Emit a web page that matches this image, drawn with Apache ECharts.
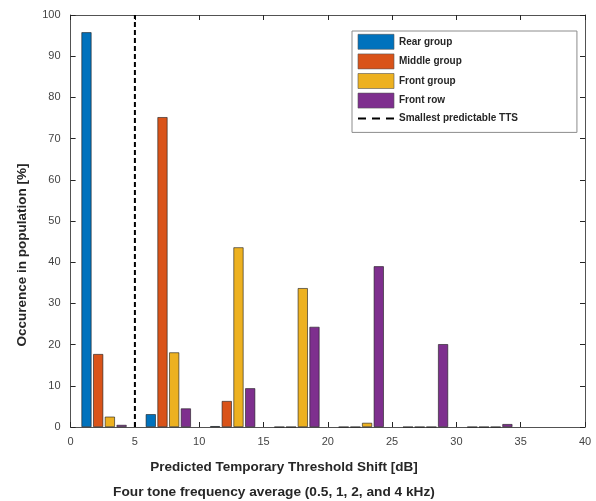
<!DOCTYPE html>
<html>
<head>
<meta charset="utf-8">
<script src="https://cdn.jsdelivr.net/npm/echarts@6/dist/echarts.min.js"></script>
<style>html,body{margin:0;padding:0;background:#fff;}#c{width:596px;height:501px;}</style>
</head>
<body>
<div id="c"></div>
<script>
const binCenters = [2.6, 7.6, 12.6, 17.6, 22.6, 27.6, 32.6];
const rearGroup = [95.8, 3.1, 0.2, 0, 0, 0, 0];
const middleGroup = [17.7, 75.2, 6.3, 0, 0, 0, 0];
const frontGroup = [2.5, 18.1, 43.6, 33.7, 1.0, 0, 0];
const frontRow = [0.5, 4.5, 9.4, 24.3, 39.0, 20.1, 0.7];
const smallestTTS = 5;
const seriesNames = ['Rear group', 'Middle group', 'Front group', 'Front row', 'Smallest predictable TTS'];
const colors = ['#0072BD', '#D95319', '#EDB120', '#7E2F8E'];
const xTicks = [0, 5, 10, 15, 20, 25, 30, 35, 40];
const yTicks = [0, 10, 20, 30, 40, 50, 60, 70, 80, 90, 100];
const xLabelLines = ['Predicted Temporary Threshold Shift [dB]', 'Four tone frequency average (0.5, 1, 2, and 4 kHz)'];
const yLabel = 'Occurence in population [%]';

const chart = echarts.init(document.getElementById('c'));
const font = 'Liberation Sans, Arial, sans-serif';
const axisCol = '#262626';
const tickCol = '#444';

function barSeries(name, vals, i) {
  return {
    name: name, type: 'bar', xAxisIndex: 0, yAxisIndex: 0,
    data: binCenters.map((x, k) => [x, vals[k]]),
    barWidth: 10, barGap: '17%',
    itemStyle: { color: colors[i], borderColor: '#1a1a1a', borderWidth: 0.6 },
    emphasis: { disabled: true }
  };
}

const axisLineStyle = { color: axisCol, width: 0.8 };
const tickStyle = { show: true, inside: true, length: 5, lineStyle: { color: axisCol } };

const option = {
  animation: false,
  backgroundColor: '#fff',
  grid: { left: 70.6, right: 11, top: 15, bottom: 74, containLabel: false },
  xAxis: [
    { type: 'value', min: xTicks[0], max: xTicks[xTicks.length - 1], interval: 5,
      axisLine: { show: true, onZero: false, lineStyle: axisLineStyle },
      axisTick: tickStyle,
      axisLabel: { color: tickCol, fontSize: 11, fontFamily: font, margin: 9 },
      splitLine: { show: false } },
    { type: 'value', position: 'top', min: xTicks[0], max: xTicks[xTicks.length - 1], interval: 5,
      axisLine: { show: true, onZero: false, lineStyle: axisLineStyle },
      axisTick: tickStyle, axisLabel: { show: false }, splitLine: { show: false } }
  ],
  yAxis: [
    { type: 'value', min: yTicks[0], max: yTicks[yTicks.length - 1], interval: 10,
      axisLine: { show: true, onZero: false, lineStyle: axisLineStyle },
      axisTick: tickStyle,
      axisLabel: { color: tickCol, fontSize: 11, fontFamily: font, margin: 10 },
      splitLine: { show: false } },
    { type: 'value', position: 'right', min: yTicks[0], max: yTicks[yTicks.length - 1], interval: 10,
      axisLine: { show: true, onZero: false, lineStyle: axisLineStyle },
      axisTick: tickStyle, axisLabel: { show: false }, splitLine: { show: false } }
  ],
  legend: {
    orient: 'vertical', left: 352, top: 31,
    padding: [3, 59, 8, 5], itemGap: 4, itemWidth: 36, itemHeight: 15,
    borderColor: '#8c8c8c', borderWidth: 1, backgroundColor: '#fff',
    itemStyle: { borderWidth: 0.6, borderColor: '#555' },
    textStyle: { color: axisCol, fontSize: 10, fontFamily: font, fontWeight: 'bold' },
    data: [
      { name: seriesNames[0], icon: 'rect' },
      { name: seriesNames[1], icon: 'rect' },
      { name: seriesNames[2], icon: 'rect' },
      { name: seriesNames[3], icon: 'rect' },
      { name: seriesNames[4],
        itemStyle: { color: 'rgba(0,0,0,0)', borderWidth: 0, borderColor: 'rgba(0,0,0,0)' },
        lineStyle: { color: '#000', width: 2, type: [8, 6] } }
    ]
  },
  series: [
    barSeries(seriesNames[0], rearGroup, 0),
    barSeries(seriesNames[1], middleGroup, 1),
    barSeries(seriesNames[2], frontGroup, 2),
    barSeries(seriesNames[3], frontRow, 3),
    { name: seriesNames[4], type: 'line', xAxisIndex: 0, yAxisIndex: 0,
      data: [[smallestTTS, yTicks[0]], [smallestTTS, yTicks[yTicks.length - 1]]],
      symbol: 'none', lineStyle: { color: '#000', width: 2, type: [5, 3] },
      itemStyle: { color: '#000' }, z: 5, emphasis: { disabled: true } }
  ],
  graphic: [
    { type: 'text', style: {
        text: xLabelLines[0], x: 284, y: 467,
        align: 'center', verticalAlign: 'middle', fill: axisCol,
        font: 'bold 13.5px ' + font } },
    { type: 'text', style: {
        text: xLabelLines[1], x: 274, y: 492,
        align: 'center', verticalAlign: 'middle', fill: axisCol,
        font: 'bold 13.7px ' + font } },
    { type: 'text', x: 22, y: 255, rotation: Math.PI / 2, style: {
        text: yLabel, x: 0, y: 0,
        align: 'center', verticalAlign: 'middle', fill: axisCol,
        font: 'bold 13.5px ' + font } }
  ]
};
chart.setOption(option);
</script>
</body>
</html>
